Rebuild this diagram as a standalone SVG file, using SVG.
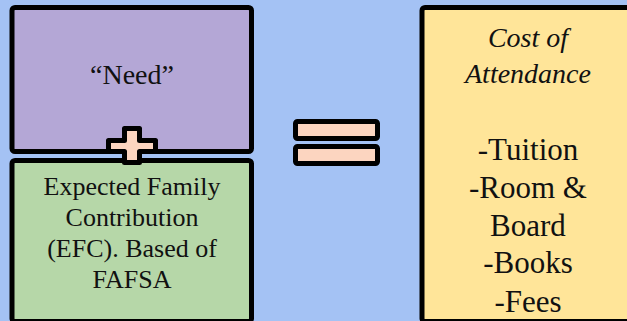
<svg xmlns="http://www.w3.org/2000/svg" width="627" height="321" viewBox="0 0 627 321">
<style>
.box{stroke:#000;stroke-width:5;}
.t{fill:#111;text-anchor:middle;}
</style>
<rect x="0" y="0" width="627" height="321" fill="#a4c2f4"/>
<g id="need">
<rect class="box" x="12" y="7.5" width="239.5" height="144" rx="3" fill="#b4a7d6"/>
<text class="t" x="132" y="84" font-size="28" font-family="'Liberation Serif', 'DejaVu Serif', serif">“Need”</text>
</g>
<g id="efc">
<rect class="box" x="12" y="160.5" width="239.5" height="161" rx="3" fill="#b6d7a8"/>
<text class="t" font-size="26" font-family="'Liberation Serif', 'DejaVu Serif', serif"><tspan x="132" y="195">Expected Family</tspan><tspan x="132" y="226">Contribution</tspan><tspan x="132" y="257">(EFC). Based of</tspan><tspan x="132" y="288">FAFSA</tspan></text>
</g>
<g id="plus">
<path class="box" fill="#fcd5c0" stroke-linejoin="round" d="M124.5,128.5 H139.5 V140.5 H155.5 V151.5 H139.5 V162.5 H124.5 V151.5 H108.5 V140.5 H124.5 Z"/>
</g>
<g id="equals">
<rect class="box" x="295.5" y="121.5" width="82" height="17" rx="2" fill="#fcd5c0"/>
<rect class="box" x="295.5" y="146.5" width="82" height="17" rx="2" fill="#fcd5c0"/>
</g>
<g id="coa">
<rect class="box" x="422" y="7.5" width="220" height="314" rx="3" fill="#ffe599"/>
<text class="t" font-size="28" font-style="italic" font-family="'Liberation Serif', 'DejaVu Serif', serif"><tspan x="528" y="47">Cost of</tspan><tspan x="528" y="83">Attendance</tspan></text>
<text class="t" font-size="31" font-family="'Liberation Serif', 'DejaVu Serif', serif"><tspan x="528" y="160">-Tuition</tspan><tspan x="528" y="198">-Room &amp;</tspan><tspan x="528" y="236">Board</tspan><tspan x="528" y="273">-Books</tspan><tspan x="528" y="312">-Fees</tspan></text>
</g>
<g id="connectors"></g>
</svg>
